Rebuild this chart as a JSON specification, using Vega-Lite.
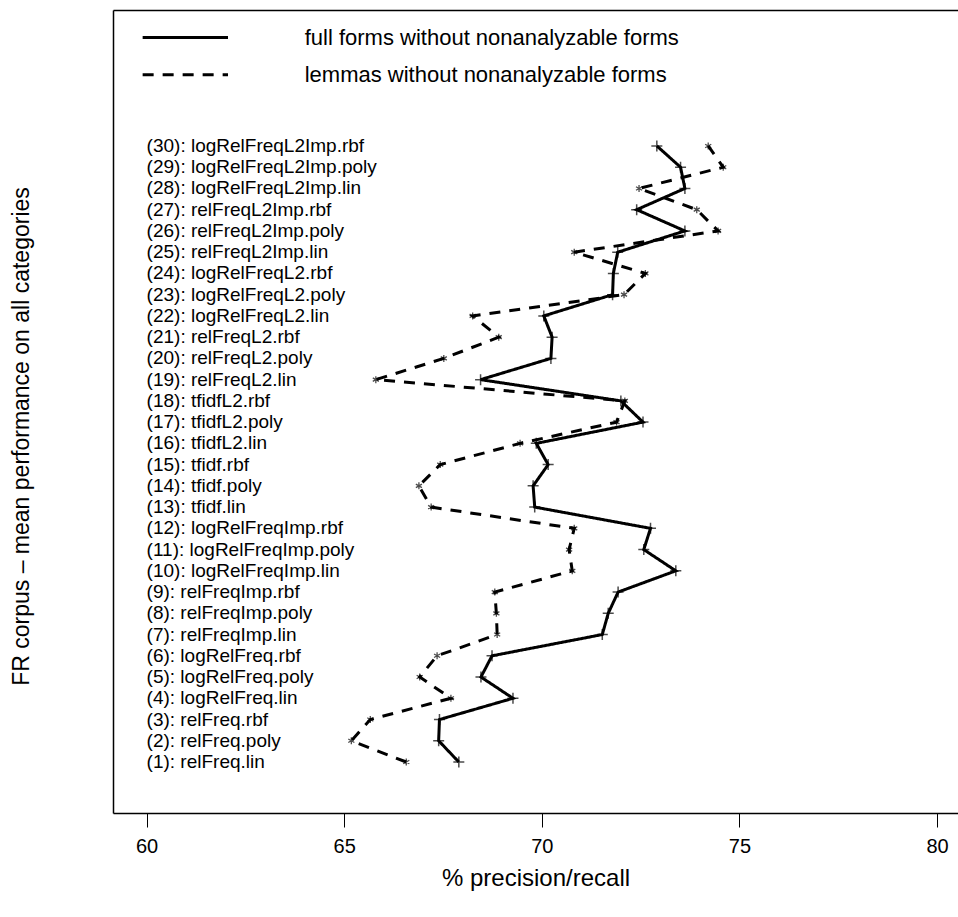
{
  "$schema": "https://vega.github.io/schema/vega-lite/v6.json",
  "autosize": "none",
  "width": 845,
  "height": 803,
  "padding": {"left": 113, "top": 10, "right": 0, "bottom": 104},
  "background": "white",
  "config": {
    "view": {"stroke": null},
    "font": "Liberation Sans",
    "text": {"font": "Liberation Sans"}
  },
  "datasets": {
    "rows": [
      {"n": 1, "label": "(1): relFreq.lin", "full": 67.90, "lemma": 66.57},
      {"n": 2, "label": "(2): relFreq.poly", "full": 67.39, "lemma": 65.18},
      {"n": 3, "label": "(3): relFreq.rbf", "full": 67.41, "lemma": 65.66},
      {"n": 4, "label": "(4): logRelFreq.lin", "full": 69.27, "lemma": 67.70},
      {"n": 5, "label": "(5): logRelFreq.poly", "full": 68.46, "lemma": 66.91},
      {"n": 6, "label": "(6): logRelFreq.rbf", "full": 68.74, "lemma": 67.35},
      {"n": 7, "label": "(7): relFreqImp.lin", "full": 71.53, "lemma": 68.87},
      {"n": 8, "label": "(8): relFreqImp.poly", "full": 71.68, "lemma": 68.85},
      {"n": 9, "label": "(9): relFreqImp.rbf", "full": 71.93, "lemma": 68.81},
      {"n": 10, "label": "(10): logRelFreqImp.lin", "full": 73.39, "lemma": 70.77},
      {"n": 11, "label": "(11): logRelFreqImp.poly", "full": 72.58, "lemma": 70.69},
      {"n": 12, "label": "(12): logRelFreqImp.rbf", "full": 72.75, "lemma": 70.82},
      {"n": 13, "label": "(13): tfidf.lin", "full": 69.82, "lemma": 67.20},
      {"n": 14, "label": "(14): tfidf.poly", "full": 69.78, "lemma": 66.89},
      {"n": 15, "label": "(15): tfidf.rbf", "full": 70.16, "lemma": 67.43},
      {"n": 16, "label": "(16): tfidfL2.lin", "full": 69.86, "lemma": 69.45},
      {"n": 17, "label": "(17): tfidfL2.poly", "full": 72.56, "lemma": 71.89},
      {"n": 18, "label": "(18): tfidfL2.rbf", "full": 72.00, "lemma": 72.10},
      {"n": 19, "label": "(19): relFreqL2.lin", "full": 68.45, "lemma": 65.80},
      {"n": 20, "label": "(20): relFreqL2.poly", "full": 70.23, "lemma": 67.52},
      {"n": 21, "label": "(21): relFreqL2.rbf", "full": 70.26, "lemma": 68.91},
      {"n": 22, "label": "(22): logRelFreqL2.lin", "full": 70.05, "lemma": 68.25},
      {"n": 23, "label": "(23): logRelFreqL2.poly", "full": 71.79, "lemma": 72.08},
      {"n": 24, "label": "(24): logRelFreqL2.rbf", "full": 71.81, "lemma": 72.62},
      {"n": 25, "label": "(25): relFreqL2Imp.lin", "full": 71.92, "lemma": 70.82},
      {"n": 26, "label": "(26): relFreqL2Imp.poly", "full": 73.62, "lemma": 74.46},
      {"n": 27, "label": "(27): relFreqL2Imp.rbf", "full": 72.40, "lemma": 73.92},
      {"n": 28, "label": "(28): logRelFreqL2Imp.lin", "full": 73.62, "lemma": 72.46},
      {"n": 29, "label": "(29): logRelFreqL2Imp.poly", "full": 73.51, "lemma": 74.59},
      {"n": 30, "label": "(30): logRelFreqL2Imp.rbf", "full": 72.91, "lemma": 74.21}
    ]
  },
  "resolve": {"axis": {"x": "independent", "y": "independent"}},
  "layer": [
    {
      "data": {"name": "rows"},
      "transform": [{"fold": ["full", "lemma"], "as": ["series", "value"]}],
      "mark": {"type": "line", "stroke": "black", "strokeWidth": 3},
      "encoding": {
        "x": {
          "field": "value", "type": "quantitative",
          "scale": {"domain": [59.15, 80.53], "nice": false, "zero": false},
          "axis": {
            "orient": "bottom", "values": [60, 65, 70, 75, 80], "grid": false,
            "domainColor": "black", "domainWidth": 1.5, "tickColor": "black", "tickSize": 14, "tickWidth": 1,
            "labelFont": "Liberation Sans", "labelFontSize": 20, "labelColor": "black", "labelPadding": 9,
            "title": "% precision/recall", "titleFont": "Liberation Sans", "titleFontSize": 24,
            "titleFontWeight": "normal", "titleColor": "black", "titlePadding": 10
          }
        },
        "y": {
          "field": "n", "type": "quantitative",
          "scale": {"domain": [-1.4, 36.4], "nice": false, "zero": false},
          "axis": {
            "orient": "left", "grid": false, "ticks": false, "labels": false,
            "domainColor": "black", "domainWidth": 1.5,
            "title": "FR corpus – mean performance on all categories", "titleFont": "Liberation Sans",
            "titleFontSize": 23, "titleFontWeight": "normal", "titleColor": "black", "titlePadding": 80,
            "titleY": 426
          }
        },
        "order": {"field": "n", "type": "quantitative"},
        "detail": {"field": "series"},
        "strokeDash": {
          "field": "series", "type": "nominal",
          "scale": {"domain": ["full", "lemma"], "range": [[1, 0], [11, 9]]},
          "legend": null
        }
      }
    },
    {
      "data": {"name": "rows"},
      "mark": {"type": "point", "shape": "M-1,0H1M0,-1V1", "size": 121, "stroke": "black", "strokeWidth": 1.5, "filled": false},
      "encoding": {
        "x": {"field": "full", "type": "quantitative", "axis": null},
        "y": {"field": "n", "type": "quantitative", "axis": null}
      }
    },
    {
      "data": {"name": "rows"},
      "mark": {"type": "point", "shape": "M0,-1V1M-0.87,-0.5L0.87,0.5M-0.87,0.5L0.87,-0.5", "size": 49, "stroke": "black", "strokeWidth": 1.3, "filled": false},
      "encoding": {
        "x": {"field": "lemma", "type": "quantitative", "axis": null},
        "y": {"field": "n", "type": "quantitative", "axis": null}
      }
    },
    {
      "data": {"name": "rows"},
      "mark": {"type": "text", "align": "left", "baseline": "middle", "fontSize": 19, "font": "Liberation Sans", "color": "black"},
      "encoding": {
        "x": {"datum": 60, "type": "quantitative", "axis": null},
        "y": {"field": "n", "type": "quantitative", "axis": null},
        "text": {"field": "label"}
      }
    },
    {
      "data": {"values": [{"series": "full"}]},
      "mark": {"type": "rule", "stroke": "black", "strokeWidth": 3},
      "encoding": {
        "x": {"datum": 59.9, "type": "quantitative", "axis": {"orient": "top", "grid": false, "ticks": false, "labels": false, "title": null, "domainColor": "black", "domainWidth": 1.5}},
        "x2": {"datum": 62.06},
        "y": {"datum": 35.1, "type": "quantitative", "axis": null},
        "strokeDash": {"field": "series", "type": "nominal", "legend": null}
      }
    },
    {
      "data": {"values": [{"series": "lemma"}]},
      "mark": {"type": "rule", "stroke": "black", "strokeWidth": 3},
      "encoding": {
        "x": {"datum": 59.9, "type": "quantitative", "axis": null},
        "x2": {"datum": 62.06},
        "y": {"datum": 33.35, "type": "quantitative", "axis": null},
        "strokeDash": {"field": "series", "type": "nominal", "legend": null}
      }
    },
    {
      "data": {"values": [{"text": "full forms without nonanalyzable forms"}]},
      "mark": {"type": "text", "align": "left", "baseline": "middle", "fontSize": 22, "font": "Liberation Sans", "color": "black"},
      "encoding": {
        "x": {"datum": 64.0, "type": "quantitative", "axis": null},
        "y": {"datum": 35.1, "type": "quantitative", "axis": null},
        "text": {"field": "text"}
      }
    },
    {
      "data": {"values": [{"text": "lemmas without nonanalyzable forms"}]},
      "mark": {"type": "text", "align": "left", "baseline": "middle", "fontSize": 22, "font": "Liberation Sans", "color": "black"},
      "encoding": {
        "x": {"datum": 64.0, "type": "quantitative", "axis": null},
        "y": {"datum": 33.35, "type": "quantitative", "axis": null},
        "text": {"field": "text"}
      }
    }
  ]
}
